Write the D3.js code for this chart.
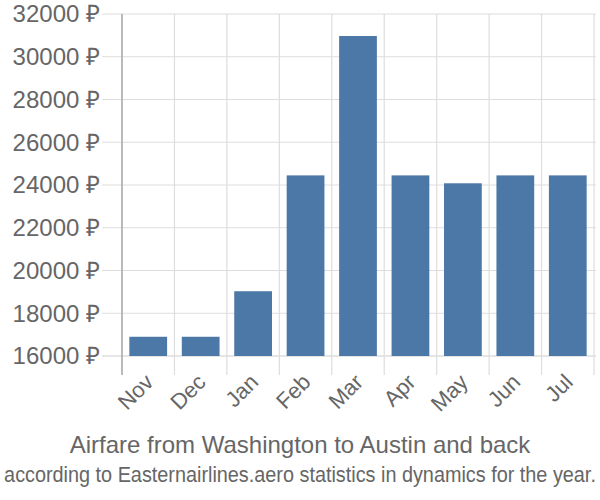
<!DOCTYPE html>
<html><head><meta charset="utf-8">
<script src="https://cdn.jsdelivr.net/npm/d3@7"></script>
<style>body{margin:0;background:#fff}svg{display:block}text{font-family:"Liberation Sans",Arial,sans-serif;fill:#666}</style>
</head><body>
<svg id="c" width="600" height="500"></svg>
<script>
const months = ["Nov","Dec","Jan","Feb","Mar","Apr","May","Jun","Jul"];
const prices = [16900, 16900, 19030, 24450, 30970, 24450, 24080, 24450, 24450];
const yTicks = [16000,18000,20000,22000,24000,26000,28000,30000,32000];
const title = "Airfare from Washington to Austin and back";
const subtitle = "according to Easternairlines.aero statistics in dynamics for the year.";

const svg = d3.select("#c");
const L = 122, R = 594, T = 14, B = 356;
const x = d3.scaleBand().domain(months).range([L, R]).paddingInner(0.28).paddingOuter(0.14);
const y = d3.scaleLinear().domain([16000, 32000]).range([B, T]);

// horizontal grid
svg.append("g").selectAll("line").data(yTicks).join("line")
  .attr("x1", 102).attr("x2", 596)
  .attr("y1", d => y(d)).attr("y2", d => y(d))
  .attr("stroke", d => d === 16000 ? "#ccc" : "#ddd").attr("stroke-width", 1.2);
// vertical grid
const bounds = months.map(m => x(m) - x.step()*x.paddingInner()/2);
bounds.push(R);
svg.append("g").selectAll("line").data(bounds).join("line")
  .attr("x1", d => d).attr("x2", d => d)
  .attr("y1", T).attr("y2", 375)
  .attr("stroke", "#ddd").attr("stroke-width", 1.2);
// y axis line
svg.append("line").attr("x1", L).attr("x2", L).attr("y1", T).attr("y2", 375)
  .attr("stroke", "#aaa").attr("stroke-width", 1.5);

// bars
svg.append("g").selectAll("rect").data(prices).join("rect")
  .attr("x", (d,i) => x(months[i])).attr("width", x.bandwidth())
  .attr("y", d => y(d)).attr("height", d => B - y(d))
  .attr("fill", "#4c78a8");

// y labels
svg.append("g").selectAll("text").data(yTicks).join("text")
  .attr("x", 100).attr("y", d => y(d)).attr("dy", "0.35em")
  .attr("text-anchor", "end").style("font-size", "24px")
  .text(d => d + " ₽");

// x labels
svg.append("g").selectAll("text").data(months).join("text")
  .attr("transform", m => `translate(${x(m) + x.bandwidth()/2 + 1},${378}) rotate(-45)`)
  .attr("text-anchor", "end").attr("dy", "0.35em").style("font-size", "22px")
  .text(m => m);

svg.append("text").attr("x", 300).attr("y", 453).attr("text-anchor", "middle")
  .style("font-size", "24px").text(title);
const sub = svg.append("text").attr("x", 0).attr("y", 0).attr("text-anchor", "middle")
  .style("font-size", "22px").text(subtitle);
const len = sub.node().getComputedTextLength();
const k = Math.min(1, 592 / len);
sub.attr("transform", `translate(300,482) scale(${k},1)`);
</script>
</body></html>
